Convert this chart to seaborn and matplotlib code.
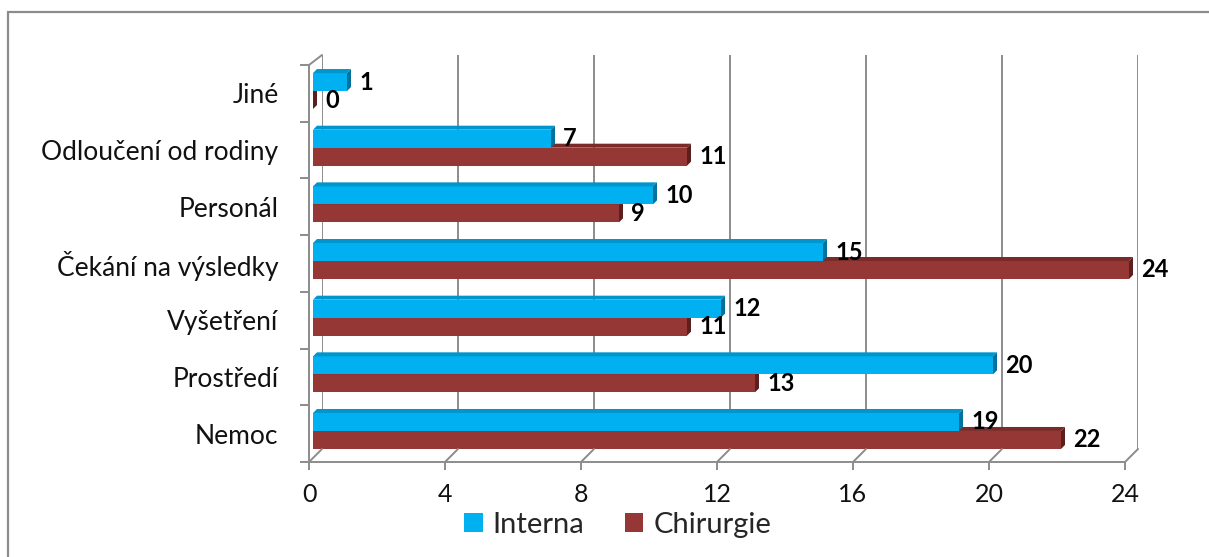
import matplotlib
matplotlib.use("Agg")
import matplotlib.pyplot as plt
import pandas as pd
import seaborn as sns
from matplotlib.patches import Polygon, Rectangle, Patch
from matplotlib.lines import Line2D

# Data
categories = ["Jiné", "Odloučení od rodiny", "Personál", "Čekání na výsledky",
              "Vyšetření", "Prostředí", "Nemoc"]
interna = [1, 7, 10, 15, 12, 20, 19]
chirurgie = [0, 11, 9, 24, 11, 13, 22]
series_names = ["Interna", "Chirurgie"]
x_ticks = [0, 4, 8, 12, 16, 20, 24]

front_colors = {"Interna": "#00B0F0", "Chirurgie": "#953735"}
top_colors = {"Interna": "#0095CC", "Chirurgie": "#7A2B29"}
side_colors = {"Interna": "#00729C", "Chirurgie": "#5C1F1E"}
GRID = "#8C8C8C"

df = pd.DataFrame({
    "Kategorie": categories * 2,
    "Počet": interna + chirurgie,
    "Oddělení": ["Interna"] * len(categories) + ["Chirurgie"] * len(categories),
})

W, H = 1209, 557
sns.set_theme(style="white")
plt.rcParams["font.family"] = ["Lato", "DejaVu Sans"]

fig = plt.figure(figsize=(W / 100, H / 100), dpi=100)


def box(left, right, top, bottom):
    """Axes rectangle from pixel edges (origin top-left)."""
    return [left / W, 1 - bottom / H, (right - left) / W, (bottom - top) / H]


# Outer chart frame
fig.add_artist(Rectangle((8 / W, -0.05), 1.2, 1.05 - 12 / H, transform=fig.transFigure,
                         facecolor="none", edgecolor=GRID, linewidth=1.6))

# Back wall with vertical gridlines
ax_back = fig.add_axes(box(322, 1138, 55, 449))
ax_back.set_xlim(0, 24)
ax_back.set_ylim(0, 1)
ax_back.set_xticks(x_ticks)
ax_back.set_yticks([])
ax_back.grid(axis="x", color=GRID, linewidth=1.4)
ax_back.tick_params(axis="x", length=0, labelbottom=False)
for s in ax_back.spines.values():
    s.set_visible(False)
ax_back.patch.set_visible(False)

# Bars
ax_bar = fig.add_axes(box(313, 1129, 62.7, 459.3))
sns.barplot(data=df, y="Kategorie", x="Počet", hue="Oddělení", order=categories,
            hue_order=series_names, palette=front_colors, width=0.635, orient="h",
            errorbar=None, saturation=1, legend=False, ax=ax_bar, linewidth=0)
ax_bar.set_xlim(0, 24)
ax_bar.set_ylim(len(categories) - 0.5, -0.5)
ax_bar.axis("off")
ax_bar.patch.set_visible(False)

depth = 4  # pixel depth of the bar bodies
inv_fig = fig.transFigure.inverted()
for container, name, z in zip(ax_bar.containers, series_names, (3, 2)):
    for patch, value in zip(container.patches, container.datavalues):
        patch.set_zorder(z)
        x0, y0 = patch.get_x(), patch.get_y()
        w, h = patch.get_width(), patch.get_height()
        (xl, ya), (xr, yb) = ax_bar.transData.transform([(x0, y0), (x0 + w, y0 + h)])
        yt, ybot = max(ya, yb), min(ya, yb)
        top = [(xl, yt), (xr, yt), (xr + depth, yt + depth), (xl + depth, yt + depth)]
        side = [(xr, yt), (xr + depth, yt + depth), (xr + depth, ybot + depth), (xr, ybot)]
        for pts, col in ((top, top_colors[name]), (side, side_colors[name])):
            ax_bar.add_patch(Polygon(inv_fig.transform(pts), closed=True,
                                     transform=fig.transFigure, facecolor=col,
                                     edgecolor="none", zorder=z + 0.1, clip_on=False))
        ax_bar.annotate(f"{value:g}", xy=(value, y0 + h / 2), xytext=(12, 0),
                        textcoords="offset pixels", ha="left", va="center",
                        fontsize=17, fontweight="bold", color="black",
                        annotation_clip=False, zorder=5)

# Front axes: tick labels and axis lines
ax_front = fig.add_axes(box(309, 1125, 65, 462))
ax_front.patch.set_visible(False)
ax_front.set_xlim(0, 24)
ax_front.set_ylim(len(categories) - 0.5, -0.5)
ax_front.set_xticks(x_ticks)
ax_front.set_xticklabels([str(t) for t in x_ticks])
ax_front.set_yticks(range(len(categories)))
ax_front.set_yticklabels(categories)
ax_front.set_yticks([i - 0.5 for i in range(len(categories) + 1)], minor=True)
ax_front.tick_params(axis="y", which="major", length=0, pad=22, labelsize=19, labelcolor="#111111")
ax_front.tick_params(axis="y", which="minor", length=6.5, width=1.4, color=GRID, left=True)
ax_front.tick_params(axis="x", which="major", length=5.8, width=1.4, color=GRID,
                     pad=9, labelsize=18, labelcolor="#111111", bottom=True)
for side in ("top", "right"):
    ax_front.spines[side].set_visible(False)
for side in ("left", "bottom"):
    ax_front.spines[side].set_color(GRID)
    ax_front.spines[side].set_linewidth(1.4)

# Connectors between front axis and back wall
for t in x_ticks:
    p_front = ax_front.transData.transform((t, len(categories) - 0.5))
    p_back = ax_back.transData.transform((t, 0))
    (fx, fy), (bx, by) = inv_fig.transform([p_front, p_back])
    fig.add_artist(Line2D([fx, bx], [fy, by], transform=fig.transFigure,
                          color=GRID, linewidth=1.4))
p_front = ax_front.transData.transform((0, -0.5))
p_back = ax_back.transData.transform((0, 1))
(fx, fy), (bx, by) = inv_fig.transform([p_front, p_back])
fig.add_artist(Line2D([fx, bx], [fy, by], transform=fig.transFigure, color=GRID, linewidth=1.4))

# Legend
handles = [Patch(facecolor=front_colors[n], edgecolor="none", label=n) for n in series_names]
fig.legend(handles=handles, loc="center", bbox_to_anchor=(618 / W, 1 - 525 / H), ncol=2,
           frameon=False, fontsize=21, handlelength=0.62, handleheight=0.62,
           handletextpad=0.35, columnspacing=1.4)

fig.savefig("out.png", dpi=100, facecolor="white")
